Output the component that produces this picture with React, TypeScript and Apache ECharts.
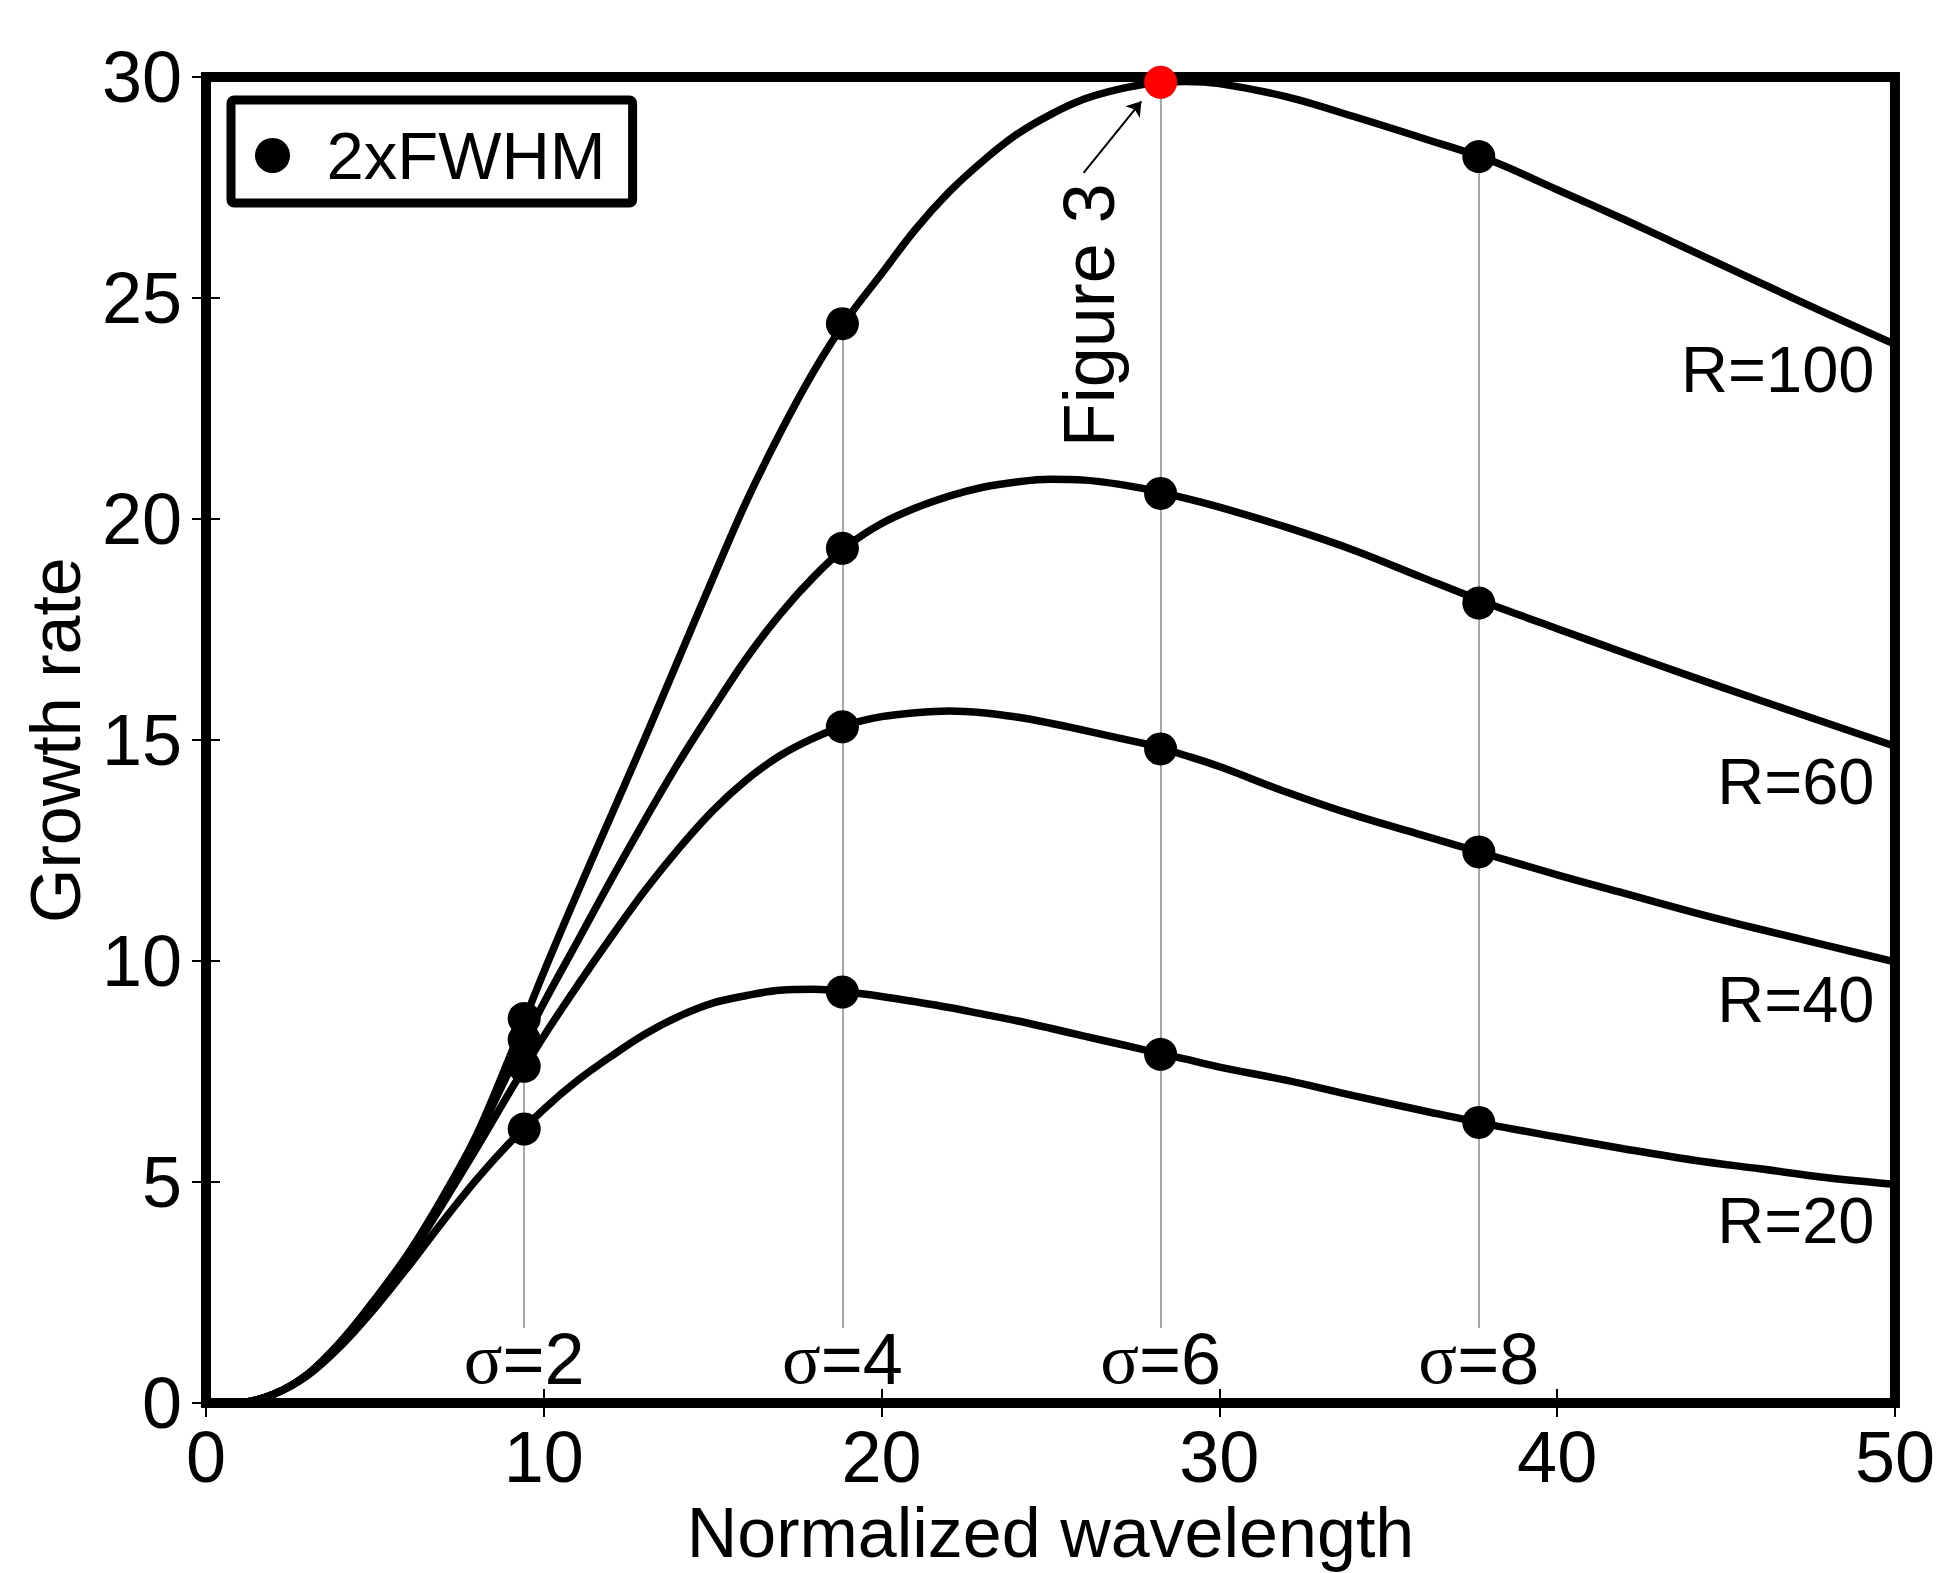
import React, { useEffect, useRef } from "react";
import * as echarts from "echarts";

// Sampled normalized wavelength values
const xs = [0, 1, 2, 3, 4, 5, 6, 7, 8, 9, 10, 11, 12, 13, 14, 15, 16, 17, 18, 19, 20, 21, 22, 23, 24, 25, 26, 27, 28, 29, 30, 32, 34, 36, 38, 40, 42, 44, 46, 48, 50];

// Growth rate curves
const r100 = [0, 0.01, 0.2, 0.65, 1.4, 2.35, 3.4, 4.65, 6.05, 7.85, 9.75, 11.55, 13.3, 15.05, 16.85, 18.65, 20.4, 21.95, 23.35, 24.55, 25.55, 26.55, 27.4, 28.1, 28.7, 29.15, 29.5, 29.72, 29.86, 29.9, 29.85, 29.55, 29.1, 28.62, 28.12, 27.45, 26.77, 26.06, 25.35, 24.64, 23.95];
const r60 = [0, 0.01, 0.2, 0.65, 1.4, 2.33, 3.35, 4.6, 5.98, 7.55, 9.05, 10.45, 11.85, 13.2, 14.5, 15.7, 16.85, 17.85, 18.7, 19.4, 19.9, 20.25, 20.52, 20.72, 20.84, 20.9, 20.88, 20.79, 20.65, 20.47, 20.27, 19.81, 19.29, 18.68, 18.08, 17.52, 16.97, 16.43, 15.9, 15.38, 14.86];
const r40 = [0, 0.01, 0.2, 0.64, 1.38, 2.3, 3.3, 4.5, 5.75, 7.05, 8.3, 9.45, 10.55, 11.6, 12.55, 13.4, 14.1, 14.65, 15.05, 15.35, 15.53, 15.62, 15.66, 15.62, 15.52, 15.38, 15.22, 15.05, 14.88, 14.65, 14.4, 13.82, 13.3, 12.85, 12.4, 11.95, 11.53, 11.11, 10.72, 10.35, 9.98];
const r20 = [0, 0.01, 0.2, 0.62, 1.3, 2.15, 3.1, 4.1, 5.05, 5.9, 6.65, 7.3, 7.85, 8.35, 8.75, 9.05, 9.22, 9.34, 9.36, 9.3, 9.2, 9.08, 8.95, 8.8, 8.65, 8.48, 8.3, 8.13, 7.95, 7.78, 7.6, 7.3, 6.95, 6.62, 6.3, 6.02, 5.75, 5.5, 5.3, 5.1, 4.95];

const curveNames = ["R=100", "R=60", "R=40", "R=20"];
const curves = [r100, r60, r40, r20];

// 2xFWHM markers at sigma = 2, 4, 6, 8
const sigmaX = [9.42, 18.84, 28.26, 37.68];
const sigmaLabels = ["2", "4", "6", "8"];
const dotsR100 = [8.7, 24.42, 29.88, 28.2];
const dotsR60 = [8.22, 19.34, 20.58, 18.1];
const dotsR40 = [7.62, 15.3, 14.8, 12.47];
const dotsR20 = [6.2, 9.3, 7.89, 6.35];
const dots = [dotsR100, dotsR60, dotsR40, dotsR20];

// annotation anchors (data coordinates)
const sigmaLineBottom = 1.7;
const sigmaLabelY = 1.0;
const curveLabelY = [23.38, 14.06, 9.13, 4.12];
const figLabel = [26.13, 24.61];
const arrowFrom = [25.98, 27.83];
const arrowTo = [27.69, 29.45];

const SANS = "'Liberation Sans', Arial, Helvetica, sans-serif";
const SERIF = "'Liberation Serif', 'Times New Roman', serif";

export default function App() {
  const ref = useRef<HTMLDivElement>(null);

  useEffect(() => {
    if (!ref.current) return;
    const chart = echarts.init(ref.current, undefined, { renderer: "svg" });

    const lineSeries = curves.map((c, k) => ({
      name: curveNames[k],
      type: "line",
      data: xs.map((x, i) => [x, c[i]]),
      smooth: 0.35,
      symbol: "none",
      lineStyle: { color: "#000", width: 7.5 },
      z: 3,
      silent: true,
    }));

    const dotData: any[] = [];
    dots.forEach((arr, k) => {
      arr.forEach((y, i) => {
        const isRed = k === 0 && i === 2;
        dotData.push({
          value: [sigmaX[i], y],
          itemStyle: { color: isRed ? "#ff0000" : "#000", opacity: 1 },
        });
      });
    });

    const hidden = { color: "rgba(0,0,0,0)", opacity: 1 };
    const tick = { show: true, inside: true, length: 14, lineStyle: { color: "#000", width: 2 } };

    const option: any = {
      animation: false,
      backgroundColor: "#fff",
      grid: {
        left: 206,
        top: 77,
        width: 1691,
        height: 1332,
        show: true,
        borderColor: "#000",
        borderWidth: 10,
        backgroundColor: "transparent",
      },
      legend: {
        data: [{ name: "2xFWHM", icon: "circle" }],
        left: 231,
        top: 100,
        orient: "vertical",
        borderColor: "#000",
        borderWidth: 9,
        borderRadius: 3,
        padding: [22, 27, 14, 24],
        itemWidth: 62,
        itemHeight: 35,
        itemGap: 0,
        selectedMode: false,
        textStyle: { fontSize: 67, fontFamily: SANS, color: "#000", padding: [0, 0, 0, 18] },
      },
      xAxis: [
        {
          type: "value",
          min: 0,
          max: 50,
          interval: 10,
          position: "bottom",
          axisLine: { show: false },
          axisTick: tick,
          axisLabel: { fontSize: 72, color: "#000", fontFamily: SANS, margin: 18 },
          splitLine: { show: false },
          name: "Normalized wavelength",
          nameLocation: "middle",
          nameGap: 82,
          nameTextStyle: { fontSize: 70, color: "#000", fontFamily: SANS },
        },
        {
          type: "value",
          min: 0,
          max: 50,
          interval: 10,
          position: "top",
          axisLine: { show: false },
          axisTick: tick,
          axisLabel: { show: false },
          splitLine: { show: false },
        },
      ],
      yAxis: [
        {
          type: "value",
          min: 0,
          max: 30,
          interval: 5,
          position: "left",
          axisLine: { show: false },
          axisTick: tick,
          axisLabel: { fontSize: 72, color: "#000", fontFamily: SANS, margin: 24 },
          splitLine: { show: false },
          name: "Growth rate",
          nameLocation: "middle",
          nameGap: 110,
          nameTextStyle: { fontSize: 70, color: "#000", fontFamily: SANS },
        },
        {
          type: "value",
          min: 0,
          max: 30,
          interval: 5,
          position: "right",
          axisLine: { show: false },
          axisTick: tick,
          axisLabel: { show: false },
          splitLine: { show: false },
        },
      ],
      series: [
        {
          name: "sigma lines",
          type: "lines",
          coordinateSystem: "cartesian2d",
          polyline: false,
          silent: true,
          z: 1,
          lineStyle: { color: "#a6a6a6", width: 2, opacity: 1 },
          data: sigmaX.map((x, i) => ({ coords: [[x, sigmaLineBottom], [x, dotsR100[i]]] })),
        },
        ...lineSeries,
        {
          name: "2xFWHM",
          type: "scatter",
          symbol: "circle",
          symbolSize: 33,
          itemStyle: { color: "#000", opacity: 1 },
          data: dotData,
          z: 5,
          silent: true,
        },
        {
          name: "sigma labels",
          type: "scatter",
          symbolSize: 1,
          itemStyle: hidden,
          silent: true,
          z: 6,
          label: {
            show: true,
            position: "inside",
            color: "#000",
            rich: {
              s: { fontFamily: SERIF, fontSize: 72, color: "#000" },
              t: { fontFamily: SANS, fontSize: 72, color: "#000" },
            },
          },
          data: sigmaX.map((x, i) => ({
            value: [x, sigmaLabelY],
            label: { formatter: "{s|σ}{t|=" + sigmaLabels[i] + "}" },
          })),
        },
        {
          name: "curve labels",
          type: "scatter",
          symbolSize: 1,
          itemStyle: hidden,
          silent: true,
          z: 6,
          label: {
            show: true,
            position: "left",
            distance: 20,
            color: "#000",
            fontFamily: SANS,
            fontSize: 65,
          },
          data: curveLabelY.map((y, i) => ({
            value: [50, y],
            label: { formatter: curveNames[i] },
          })),
        },
        {
          name: "figure label",
          type: "scatter",
          symbolSize: 1,
          itemStyle: hidden,
          silent: true,
          z: 6,
          label: {
            show: true,
            position: "inside",
            rotate: 90,
            color: "#000",
            fontFamily: SANS,
            fontSize: 72,
            formatter: "Figure 3",
          },
          data: [{ value: figLabel }],
        },
        {
          name: "figure arrow",
          type: "lines",
          coordinateSystem: "cartesian2d",
          silent: true,
          z: 6,
          symbol: ["none", "arrow"],
          symbolSize: 14,
          lineStyle: { color: "#000", width: 2, opacity: 1 },
          data: [{ coords: [arrowFrom, arrowTo] }],
        },
      ],
    };

    chart.setOption(option);
    return () => chart.dispose();
  }, []);

  return (
    <div
      ref={ref}
      style={{
        position: "absolute",
        left: 0,
        top: 0,
        width: 1938,
        height: 1573,
        overflow: "hidden",
        background: "#fff",
      }}
    />
  );
}
